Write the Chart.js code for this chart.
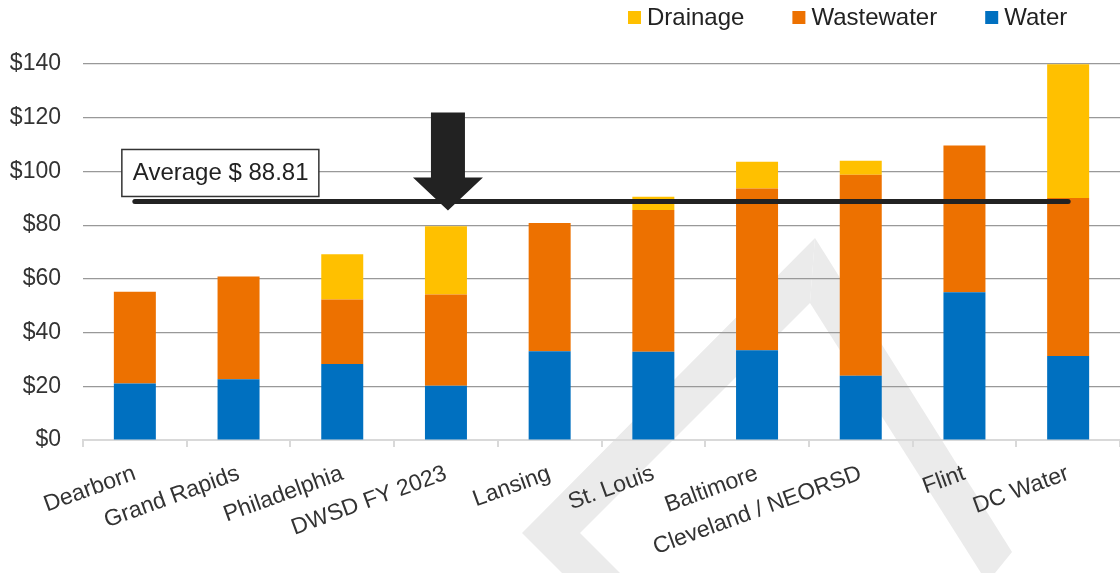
<!DOCTYPE html>
<html>
<head>
<meta charset="utf-8">
<script src="https://cdn.jsdelivr.net/npm/chart.js@4.4.0/dist/chart.umd.min.js"></script>
<style>
  html, body { margin: 0; padding: 0; background: #fff; }
</style>
</head>
<body>
<canvas id="myChart" width="1120" height="573"></canvas>
<script>
const cities = ['Dearborn', 'Grand Rapids', 'Philadelphia', 'DWSD FY 2023', 'Lansing',
  'St. Louis', 'Baltimore', 'Cleveland / NEORSD', 'Flint', 'DC Water'];
const water      = [21.0, 22.6, 28.3, 20.2, 33.0, 32.9, 33.4, 23.9, 55.0, 31.3];
const wastewater = [34.2, 38.3, 24.0, 34.0, 47.8, 52.7, 60.2, 74.9, 54.7, 58.8];
const drainage   = [0, 0, 16.9, 25.4, 0, 5.0, 10.0, 5.2, 0, 49.8];
const average = 88.81;
const highlighted = 'DWSD FY 2023';
const yTicks = [0, 20, 40, 60, 80, 100, 120, 140];

const font = 'Liberation Sans, Arial, sans-serif';

// grey watermark behind the chart
const watermark = {
  id: 'watermark',
  beforeDraw(chart) {
    const c = chart.ctx;
    c.save();
    c.fillStyle = '#ebebeb';
    const polys = [
      [[815, 238], [522, 533], [562, 573], [620, 573], [580, 533], [810, 303]],
      [[815, 238], [1012, 552], [995, 573], [981, 573], [810, 303]]
    ];
    polys.forEach(p => {
      c.beginPath();
      c.moveTo(p[0][0], p[0][1]);
      p.slice(1).forEach(pt => c.lineTo(pt[0], pt[1]));
      c.closePath();
      c.fill();
    });
    c.restore();
  }
};

// legend, average label and arrow
const extras = {
  id: 'extras',
  afterDraw(chart) {
    const c = chart.ctx;
    const x = chart.scales.x, y = chart.scales.y;
    const avgY = y.getPixelForValue(average);

    // arrow pointing at DWSD
    const ax = x.getPixelForValue(cities.indexOf(highlighted)) + 2;
    c.save();
    c.fillStyle = '#222';
    c.beginPath();
    c.moveTo(ax - 17, avgY - 89);
    c.lineTo(ax + 17, avgY - 89);
    c.lineTo(ax + 17, avgY - 24);
    c.lineTo(ax + 35, avgY - 24);
    c.lineTo(ax, avgY + 9);
    c.lineTo(ax - 35, avgY - 24);
    c.lineTo(ax - 17, avgY - 24);
    c.closePath();
    c.fill();

    // average box
    const bx = x.getPixelForValue(0) - 13;
    c.fillStyle = '#fff';
    c.strokeStyle = '#333';
    c.lineWidth = 1.5;
    c.fillRect(bx, avgY - 52, 197, 47);
    c.strokeRect(bx, avgY - 52, 197, 47);
    c.fillStyle = '#222';
    c.font = '24px ' + font;
    c.textBaseline = 'middle';
    c.fillText('Average $ ' + average.toFixed(2), bx + 11, avgY - 28);

    // legend (reverse order)
    const items = chart.data.datasets.filter(d => d.type !== 'line').slice().reverse();
    let lx = 628;
    items.forEach(d => {
      c.fillStyle = d.backgroundColor;
      c.fillRect(lx, 11, 13, 13);
      c.fillStyle = '#222';
      c.fillText(d.label, lx + 19, 18);
      lx += 19 + c.measureText(d.label).width + 48;
    });
    c.restore();
  }
};

new Chart(document.getElementById('myChart'), {
  type: 'bar',
  data: {
    labels: cities,
    datasets: [
      { type: 'line', label: 'Average', data: cities.map(() => average), borderColor: '#222',
        borderWidth: 5, borderCapStyle: 'round', pointRadius: 0, stack: 'avg', order: 0 },
      { label: 'Water', data: water, backgroundColor: '#0070C0', order: 1 },
      { label: 'Wastewater', data: wastewater, backgroundColor: '#ED7100', order: 1 },
      { label: 'Drainage', data: drainage, backgroundColor: '#FFC000', order: 1 }
    ]
  },
  options: {
    responsive: false,
    animation: false,
    devicePixelRatio: 1,
    layout: { padding: { top: 64, right: 0, left: 0, bottom: 0 } },
    datasets: { bar: { categoryPercentage: 1, barPercentage: 0.405 } },
    plugins: { legend: { display: false }, tooltip: { enabled: false } },
    scales: {
      x: {
        stacked: true,
        afterFit: s => { s.height = 133; },
        grid: { drawOnChartArea: false, color: '#d9d9d9', lineWidth: 2, tickLength: 7 },
        border: { color: '#d9d9d9', width: 2 },
        ticks: { color: '#333', font: { family: font, size: 23 }, minRotation: 20, maxRotation: 20, padding: 13, autoSkip: false }
      },
      y: {
        stacked: true,
        min: 0, max: 140,
        afterFit: s => { s.width = 83; },
        afterBuildTicks: s => { s.ticks = yTicks.map(v => ({ value: v })); },
        border: { display: false },
        grid: { drawTicks: false, color: c => c.tick && c.tick.value === 0 ? 'rgba(0,0,0,0)' : '#999', lineWidth: 1.2 },
        ticks: { color: '#333', font: { family: font, size: 23 }, padding: 22, callback: v => '$' + v }
      }
    }
  },
  plugins: [watermark, extras]
});
</script>
</body>
</html>
